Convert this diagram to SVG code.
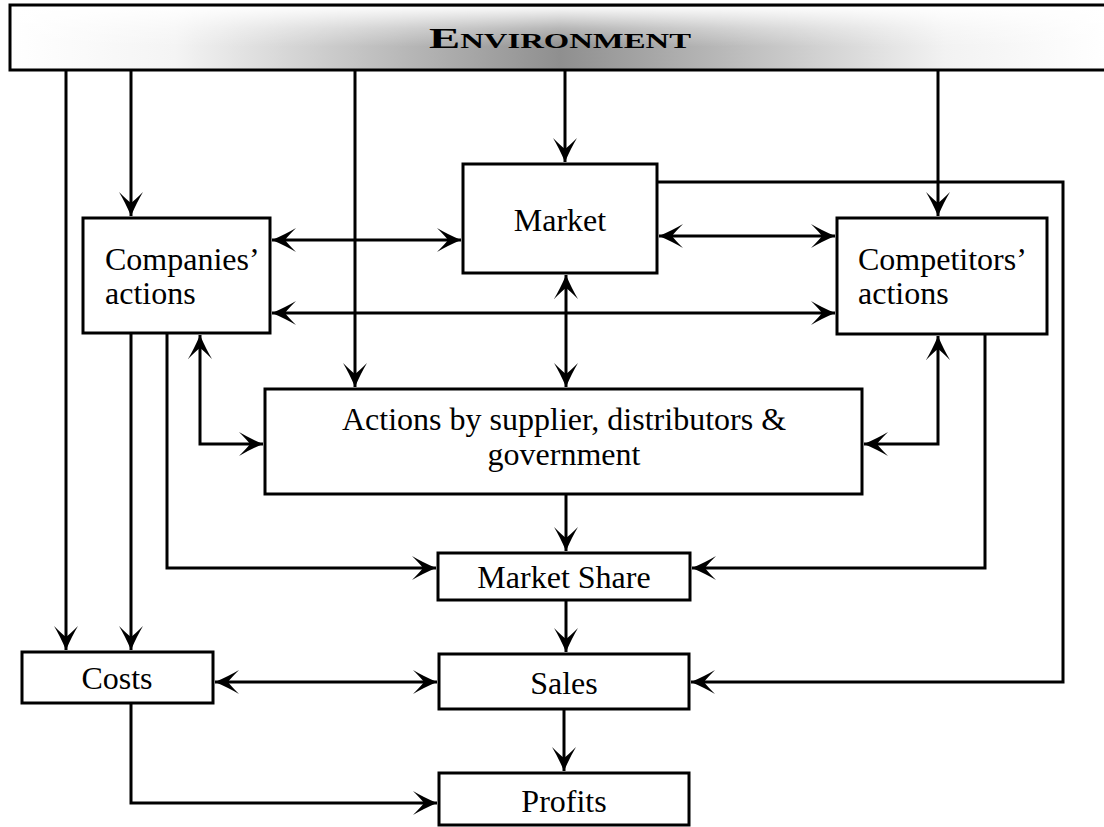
<svg xmlns="http://www.w3.org/2000/svg" width="1104" height="827" viewBox="0 0 1104 827">
<defs>
<linearGradient id="hg" x1="0" y1="0" x2="1" y2="0">
<stop offset="0" stop-color="#ffffff"/>
<stop offset="0.15" stop-color="#f4f4f4"/>
<stop offset="0.5" stop-color="#8f8f8f"/>
<stop offset="0.85" stop-color="#f2f2f2"/>
<stop offset="1" stop-color="#ffffff"/>
</linearGradient>
<linearGradient id="vg" x1="0" y1="0" x2="0" y2="1">
<stop offset="0" stop-color="#ffffff" stop-opacity="0.95"/>
<stop offset="0.35" stop-color="#ffffff" stop-opacity="0.35"/>
<stop offset="0.65" stop-color="#ffffff" stop-opacity="0"/>
</linearGradient>
<marker id="ah" markerUnits="userSpaceOnUse" markerWidth="30" markerHeight="30" viewBox="-26 -14 30 28" refX="0" refY="0" orient="auto-start-reverse">
<path d="M0,0 Q-14,-6 -24,-12 Q-16,-4 -13,0 Q-16,4 -24,12 Q-14,6 0,0 Z" fill="#000"/>
</marker>
<style>
.box{fill:#fff;stroke:#000;stroke-width:3}
.t{font-family:"Liberation Serif","Times New Roman",serif;font-size:32px;fill:#000}
.c{fill:none;stroke:#000;stroke-width:3}
.a{marker-end:url(#ah)}
.b{marker-start:url(#ah);marker-end:url(#ah)}
</style>
</defs>
<g id="environment">
<rect x="10" y="5" width="1100" height="65" fill="url(#hg)" stroke="#000" stroke-width="3"/>
<rect x="12" y="7" width="1096" height="61" fill="url(#vg)"/>
<text x="560" y="48" text-anchor="middle" font-family="Liberation Serif, serif" font-weight="bold" font-size="30" font-variant="small-caps" textLength="262" lengthAdjust="spacingAndGlyphs">Environment</text>
</g>
<g id="connectors">
<path class="c a" d="M66,70 V650"/>
<path class="c a" d="M131,70 V216"/>
<path class="c a" d="M355,70 V387"/>
<path class="c a" d="M565,70 V162"/>
<path class="c a" d="M938,70 V216"/>
<path class="c b" d="M272,240 H461"/>
<path class="c b" d="M659,236 H835"/>
<path class="c b" d="M272,313 H835"/>
<path class="c b" d="M566,275 V387"/>
<path class="c b" d="M200,335 V444 H263"/>
<path class="c b" d="M938,336 V444 H864"/>
<path class="c a" d="M167,333 V568 H436"/>
<path class="c a" d="M131,333 V650"/>
<path class="c a" d="M985,334 V568 H692"/>
<path class="c a" d="M566,494 V551"/>
<path class="c a" d="M566,600 V652"/>
<path class="c a" d="M657,182 H1063 V682 H691"/>
<path class="c b" d="M215,682 H437"/>
<path class="c a" d="M564,709 V771"/>
<path class="c a" d="M131,702 V803 H437"/>
</g>
<g id="market">
<rect class="box" x="463" y="164" width="194" height="109"/>
<text class="t" x="560" y="231" text-anchor="middle">Market</text>
</g>
<g id="companies">
<rect class="box" x="83" y="218" width="187" height="115"/>
<text class="t" x="105" y="270">Companies’</text>
<text class="t" x="105" y="304">actions</text>
</g>
<g id="competitors">
<rect class="box" x="837" y="218" width="210" height="116"/>
<text class="t" x="858" y="270">Competitors’</text>
<text class="t" x="858" y="304">actions</text>
</g>
<g id="actions">
<rect class="box" x="265" y="389" width="597" height="105"/>
<text class="t" x="564" y="430" text-anchor="middle">Actions by supplier, distributors &amp;</text>
<text class="t" x="564" y="465" text-anchor="middle">government</text>
</g>
<g id="marketshare">
<rect class="box" x="438" y="553" width="252" height="47"/>
<text class="t" x="564" y="588" text-anchor="middle">Market Share</text>
</g>
<g id="costs">
<rect class="box" x="22" y="652" width="191" height="51"/>
<text class="t" x="117" y="689" text-anchor="middle">Costs</text>
</g>
<g id="sales">
<rect class="box" x="439" y="654" width="250" height="55"/>
<text class="t" x="564" y="694" text-anchor="middle">Sales</text>
</g>
<g id="profits">
<rect class="box" x="439" y="773" width="250" height="52"/>
<text class="t" x="564" y="812" text-anchor="middle">Profits</text>
</g>
</svg>
